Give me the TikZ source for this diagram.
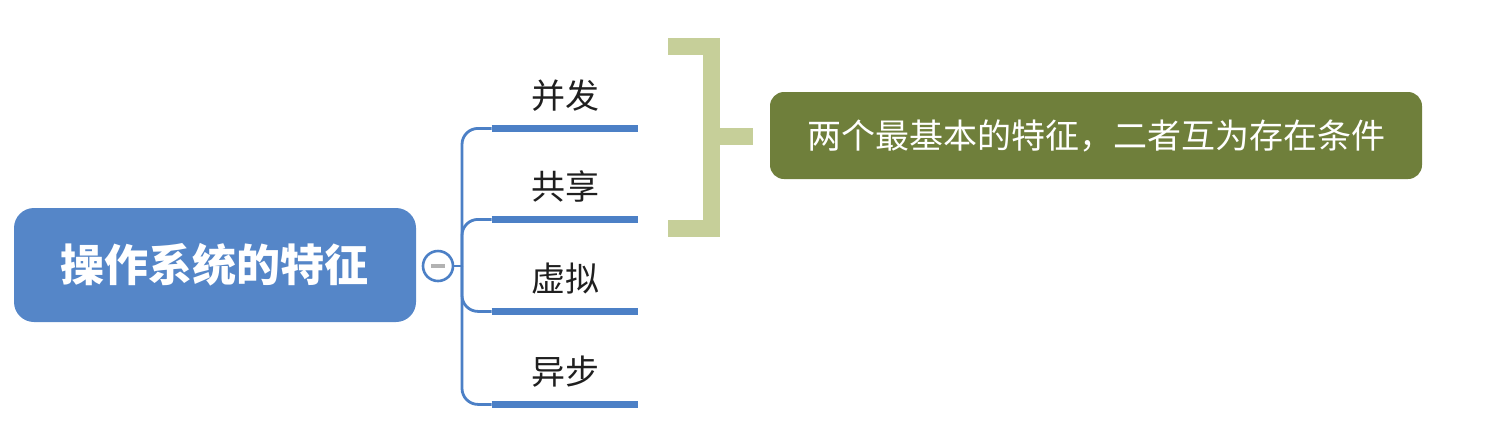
\documentclass[tikz,border=0pt]{standalone}
\usepackage{fontspec}
\newfontfamily\cjk{Noto Sans CJK SC}
\definecolor{rootblue}{HTML}{5586C8}
\definecolor{lineblue}{HTML}{4C80C6}
\definecolor{olive}{HTML}{6F7F3B}
\definecolor{palegreen}{HTML}{C6CF99}
\begin{document}
\begin{tikzpicture}
[
    x=0.5pt, y=-0.5pt,
    root/.style={fill=rootblue, rounded corners=10pt, minimum width=201pt, minimum height=57pt, text=white, font=\cjk\bfseries\fontsize{22}{26}\selectfont},
    fold/.style={circle, draw=lineblue, line width=1.3pt, fill=white, minimum size=15pt, inner sep=0pt},
    branch/.style={anchor=base, minimum width=73pt, inner sep=0pt, text height=13pt, text depth=10pt, font=\cjk\fontsize{17}{20}\selectfont, text=black!88},
    conn/.style={draw=lineblue, line width=1.4pt, rounded corners=8pt},
    under/.style={draw=lineblue, line width=3.6pt},
    note/.style={fill=olive, rounded corners=7pt, minimum width=326pt, minimum height=43.5pt, text=white, font=\cjk\fontsize{17}{20}\selectfont},
    brace/.style={draw=palegreen, line width=8.5pt, miter limit=10},
]
\useasboundingbox (0,0) rectangle (1489,436);
\node [root] (os) at (215,265) {操作系统的特征};
\node [fold] (fold) at (438,266) {};
\draw [gray!60, line width=1.8pt] ([xshift=-3.5pt]fold.center) -- ([xshift=3.5pt]fold.center);
\coordinate (hub) at (462,266);
\draw [conn] (fold) -- (hub);
% branches
\node [branch] (b1) at (565,108) {并发};
\node [branch] (b2) at (565,199) {共享};
\node [branch] (b3) at (565,291) {虚拟};
\node [branch] (b4) at (565,384) {异步};
\foreach \b in {b1,b2,b3,b4}
{
    \draw [conn] (hub) |- (\b.south west);
    \draw [under] (\b.south west) -- (\b.south east);
}
% bracket and note
\node [note] (note) at (1096,135.5) {两个最基本的特征，二者互为存在条件};
\draw [brace] (668,46.5) -- (711,46.5) -- (711,228.5) -- (668,228.5);
\draw [brace] (711,136.5) -- (753,136.5);
\end{tikzpicture}
\end{document}
